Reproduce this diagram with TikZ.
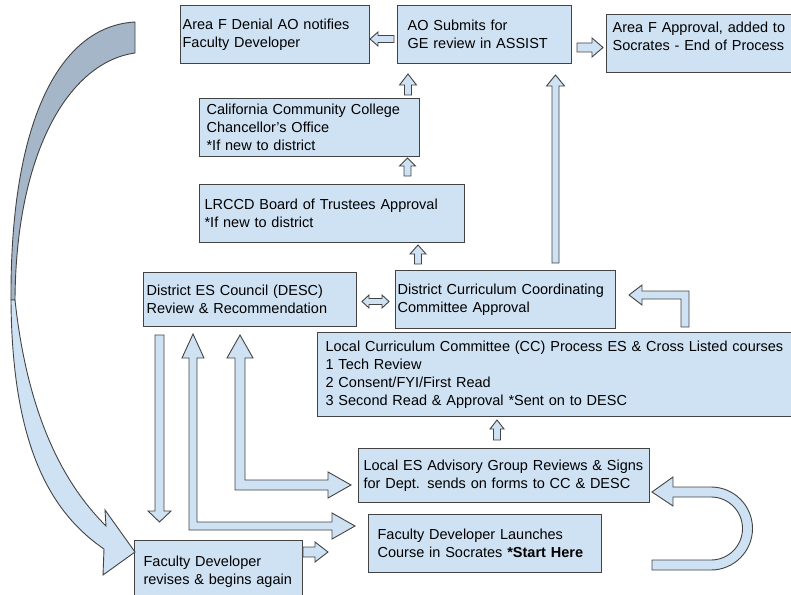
\documentclass[tikz,border=0pt]{standalone}
\usepackage{fontspec}
\setmainfont{Liberation Sans}
\definecolor{boxblue}{HTML}{CFE2F3}
\definecolor{edgegrey}{HTML}{434343}
\definecolor{backblue}{HTML}{A4B6C8}

\begin{document}
\begin{tikzpicture}[
  x=1pt, y=-1pt,
  font=\fontsize{14.5}{18}\selectfont,
  stepbox/.style={rectangle, draw=edgegrey, fill=boxblue, line width=1.2pt, anchor=north west, align=left, inner ysep=0pt},
  blockarrow/.style={draw=edgegrey, fill=boxblue, line width=0.9pt, line join=miter},
  backface/.style={draw=edgegrey, fill=backblue, line width=0.9pt}
]
\clip (0,0) rectangle (791,594);

% Top row
\node[stepbox, minimum height=58pt, text width=185pt, inner xsep=2pt] (deny) at (180,5) {Area F Denial AO notifies\\Faculty Developer};
\node[stepbox, minimum height=58pt, text width=154pt, inner xsep=10pt] (submit) at (397,5) {AO Submits for\\GE review in ASSIST};
\node[stepbox, minimum height=58pt, text width=188pt, inner xsep=6pt] (approve) at (606,14) {Area F Approval, added to\\Socrates - End of Process\\[-4pt]\mbox{}};

% District and state approvals
\node[stepbox, minimum height=58pt, text width=206pt, inner xsep=7pt] (cccco) at (199,98) {California Community College\\Chancellor’s Office\\{*}If new to district};
\node[stepbox, minimum height=58pt, text width=255pt, inner xsep=5pt] (board) at (199,184) {LRCCD Board of Trustees Approval\\{*}If new to district};
\node[stepbox, minimum height=54pt, text width=207pt, inner xsep=3pt] (desc) at (143,272) {District ES Council (DESC)\\Review \& Recommendation};
\node[stepbox, minimum height=58pt, text width=216pt, inner xsep=2pt] (dccc) at (395,270) {District Curriculum Coordinating\\Committee Approval};

% Local process
\node[stepbox, minimum height=84pt, text width=474pt, inner xsep=8pt] (localcc) at (317,332) {Local Curriculum Committee (CC) Process ES \& Cross Listed courses\\1 Tech Review\\2 Consent/FYI/First Read\\3 Second Read \& Approval *Sent on to DESC};
\node[stepbox, minimum height=54pt, text width=281pt, inner xsep=5pt] (advisory) at (358,448) {Local ES Advisory Group Reviews \& Signs\\for Dept. sends on forms to CC \& DESC};
\node[stepbox, minimum height=58pt, text width=215pt, inner xsep=9pt] (launch) at (368,514) {Faculty Developer Launches\\Course in Socrates \textbf{*Start Here}};
\node[stepbox, minimum height=62pt, text width=154pt, inner xsep=7pt] (revise) at (134,540) {\hspace*{2pt}Faculty Developer\\\hspace*{2pt}revises \& begins again};

% Straight block arrows
\draw[blockarrow] (394,35.5) -- (378,35.5) -- (378,32) -- (370,39) -- (378,46) -- (378,42.5) -- (394,42.5) -- cycle;
\draw[blockarrow] (577,43) -- (592,43) -- (592,38) -- (603,47.5) -- (592,57) -- (592,52) -- (577,52) -- cycle;
\draw[blockarrow] (404.5,95) -- (404.5,85) -- (399.5,85) -- (408,74) -- (416.5,85) -- (411.5,85) -- (411.5,95) -- cycle;
\draw[blockarrow] (404,176) -- (404,166) -- (399.5,166) -- (407.5,158) -- (415.5,166) -- (411,166) -- (411,176) -- cycle;
\draw[blockarrow] (414.5,264) -- (414.5,254) -- (410,254) -- (418,245) -- (426,254) -- (421.5,254) -- (421.5,264) -- cycle;
\draw[blockarrow] (552,263) -- (552,86) -- (546.5,86) -- (555.5,75) -- (564.5,86) -- (559,86) -- (559,263) -- cycle;
\draw[blockarrow] (493.5,440) -- (493.5,429) -- (490,429) -- (497,420) -- (504,429) -- (500.5,429) -- (500.5,440) -- cycle;
\draw[blockarrow] (362,301.5) -- (369,295) -- (369,298.5) -- (382,298.5) -- (382,295) -- (389,301.5) -- (382,308) -- (382,304.5) -- (369,304.5) -- (369,308) -- cycle;
\draw[blockarrow] (155,335) -- (164,335) -- (164,511) -- (171,511) -- (159.5,522) -- (148,511) -- (155,511) -- cycle;
\draw[blockarrow] (303,547) -- (315,547) -- (315,542) -- (328,552) -- (315,562) -- (315,557) -- (303,557) -- cycle;

% Bent block arrows
\draw[blockarrow] (681,327) -- (689,327) -- (689,291) -- (642,291) -- (642,285) -- (629,295) -- (642,305) -- (642,299) -- (681,299) -- cycle;
\draw[blockarrow] (189,530) -- (189,358) -- (182,358) -- (193,334) -- (204,358) -- (197,358) -- (197,522) -- (332,522) -- (332,513) -- (355,526) -- (332,539) -- (332,530) -- cycle;
\draw[blockarrow] (235,490) -- (235,358) -- (227,358) -- (240,335) -- (253,358) -- (245,358) -- (245,480) -- (328,480) -- (328,472) -- (351,485) -- (328,498) -- (328,490) -- cycle;
\draw[blockarrow] (652,560) -- (711,560) arc[start angle=-90, end angle=90, radius=31.5pt] -- (673,497) -- (673,506) -- (652,492) -- (673,477) -- (673,487) -- (711,487) arc[start angle=90, end angle=-90, radius=41.5pt] -- (652,570) -- cycle;

% Curved return arrow (denial back to developer)
\draw[backface] (135,22) .. controls (60,26) and (10,120) .. (11,300) -- (15,300) .. controls (16,150) and (70,62) .. (135,53) -- cycle;
\draw[blockarrow] (11,300) .. controls (12,445) and (50,512) .. (104,549) -- (103,575) -- (135,552) -- (105,510) -- (106,526) .. controls (66,486) and (28,420) .. (15,300) -- cycle;

\end{tikzpicture}
\end{document}
